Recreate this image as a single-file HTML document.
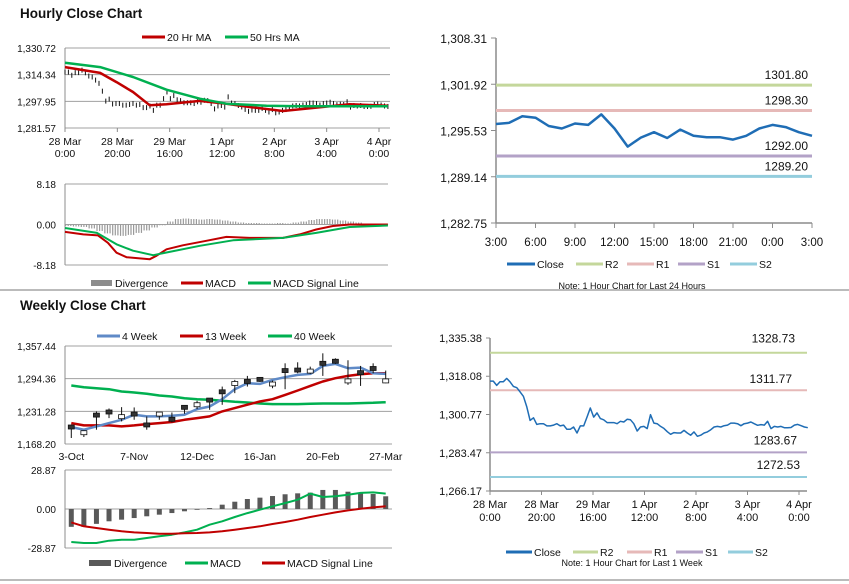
<!DOCTYPE html>
<html><head><meta charset="utf-8"><style>
body{margin:0;background:#fff;width:849px;height:584px;overflow:hidden}
svg{font-family:"Liberation Sans",sans-serif;display:block}
text{fill:#111}
</style></head><body>
<svg id="s" width="849" height="584" viewBox="0 0 849 584"></svg>
<script>
// ---------- DATA ----------
const hourTicks=["28 Mar|0:00","28 Mar|20:00","29 Mar|16:00","1 Apr|12:00","2 Apr|8:00","3 Apr|4:00","4 Apr|0:00"];
const weekClose=[1315.9,1315.9,1313.96,1315.6,1315.6,1317.1,1315.5,1313.5,1312.9,1311.0,1309.0,1304.2,1298.1,1299.3,1296.3,1296.6,1296.6,1295.6,1295.6,1296.0,1296.6,1295.6,1296.0,1294.1,1294.1,1295.1,1292.4,1295.6,1295.6,1299.6,1303.7,1299.6,1301.5,1298.9,1298.4,1297.1,1297.1,1297.1,1296.6,1297.7,1297.4,1298.6,1298.4,1296.6,1293.3,1295.1,1295.4,1294.4,1300.7,1296.9,1296.6,1295.4,1294.5,1293.0,1291.8,1292.6,1292.4,1292.4,1293.6,1292.4,1291.4,1292.9,1290.9,1291.4,1292.4,1292.9,1293.9,1295.1,1295.4,1295.1,1295.7,1296.0,1296.9,1296.9,1296.6,1295.7,1296.6,1296.9,1297.4,1296.6,1295.9,1296.2,1296.0,1297.7,1294.4,1295.4,1295.1,1295.4,1294.8,1294.8,1294.9,1296.0,1296.3,1295.7,1295.1,1294.8];
const maHours=[0,13.4,19.7,26,32.4,38.8,51.5,61.7,70.6,83.3,96,108.8,123.4];
const ma20=[1319.0,1315.4,1309.8,1303.7,1295.5,1296.1,1298.2,1296.5,1294.5,1292.0,1294.1,1296.1,1295.3];
const ma50Hours=[0,13.4,26,38.8,51.5,61.7,77,89.7,102.4,115,123.4];
const ma50=[1321.7,1319.0,1312.9,1305.1,1299.6,1296.5,1295.3,1294.9,1294.9,1294.9,1294.9];
const macdHours=[0,7,12.6,16.4,19.7,23.5,32.4,35,38.8,45,54,61.7,70.6,83.3,89.7,96,102.4,108.8,123.4];
const macdH=[-1.5,-2.0,-2.2,-3.7,-5.7,-6.6,-7.0,-6.3,-5.0,-4.2,-3.3,-2.5,-2.7,-2.7,-2.0,-1.0,-0.3,0,0];
const sigHours=[0,12.2,19.7,26,33.7,38.8,51.5,64.2,83.3,96,108.8,123.4];
const sigH=[-0.7,-1.7,-4.0,-5.3,-6.2,-5.65,-4.3,-3.2,-2.7,-1.7,-0.5,-0.2];
const divH=[-0.3,-0.4,-0.5,-0.8,-1.3,-1.8,-2.2,-2.3,-2.1,-1.7,-1.2,-0.6,-0.1,0.6,1.1,1.2,1.1,1.0,1.1,1.0,0.8,0.6,0.4,0.3,0.3,0.2,0.2,0.3,0.2,0.4,0.6,0.9,1.1,1.1,1.0,0.8,0.6,0.4,0.2,0.1,0.1,0.1];
const dayTicks=["3:00","6:00","9:00","12:00","15:00","18:00","21:00","0:00","3:00"];
const dayClose=[1296.43,1296.6,1297.5,1297.3,1296.15,1295.8,1296.5,1296.3,1297.76,1295.8,1293.3,1294.55,1295.3,1294.5,1295.65,1294.8,1294.6,1294.6,1294.27,1294.8,1295.8,1296.3,1296.0,1295.3,1294.8];
const dayLevels=[1301.80,1298.30,1292.00,1289.20];
const weekLevels=[1328.73,1311.77,1283.67,1272.53];
const weekLabels=["3-Oct","7-Nov","12-Dec","16-Jan","20-Feb","27-Mar"];
const wkClose=[1201,1190,1224,1230,1221,1226,1205,1226,1216,1239,1244,1253,1269,1285,1289,1293,1284,1310,1311,1309,1324,1328,1290,1306,1314,1290];
const wkHigh=[1205.4,1194.5,1231,1236.8,1239.4,1238.8,1221.4,1229.1,1229.1,1242,1251.6,1255.4,1279.1,1292,1299.7,1297.1,1290.7,1324,1326,1317.6,1343.3,1333.7,1329.9,1319,1324,1310];
const wkLow=[1179.8,1181.7,1195.8,1218.2,1211.8,1215,1195.8,1215,1209.9,1226.6,1235.5,1234.3,1243.9,1266.4,1279.1,1288.1,1275.9,1274,1304.8,1303.5,1299.7,1322.8,1282.4,1280.4,1304.8,1285.6];
const ma4=[1200.9,1195.8,1202.2,1208.6,1215.0,1224.7,1221.4,1221.4,1222.7,1224.7,1235.6,1240.7,1254.8,1274.0,1285.6,1284.3,1292.0,1297.1,1301.6,1303.5,1319.0,1322.8,1314.5,1315.7,1304.8,1303.5];
const ma13=[1208.6,1204.1,1204.1,1204.1,1202.2,1204.1,1206.7,1208.6,1210.6,1215.0,1218.2,1221.4,1231.1,1237.5,1244.0,1250.3,1254.8,1263.1,1271.5,1280.4,1288.8,1295.2,1299.7,1302.9,1304.8,1304.8];
const ma40=[1281.1,1277.9,1276.0,1274.0,1269.6,1267.6,1265.1,1261.9,1259.9,1256.7,1254.8,1253.5,1251.6,1249.7,1248.4,1246.5,1245.2,1245.2,1245.2,1245.8,1246.5,1246.5,1246.5,1247.1,1247.8,1249.0];
const wkDiv=[-13.2,-13.2,-11.0,-9.1,-7.9,-6.7,-5.4,-4.2,-3.0,-1.7,-0.5,0.7,3.2,5.4,7.4,8.4,9.6,10.9,11.6,12.1,14.1,14.1,12.8,12.1,11.1,9.4];
const wkMacd=[-24.4,-25.2,-25.2,-23.5,-22.7,-22.7,-21.5,-20.2,-19.0,-17.3,-15.3,-11.6,-9.1,-5.9,-3.0,-0.5,2.0,4.4,6.9,11.4,8.9,9.4,10.6,11.9,12.3,11.4];
const wkSig=[-9.9,-12.8,-14.1,-15.3,-16.5,-17.3,-17.8,-18.3,-18.3,-18.0,-17.8,-17.3,-16.5,-15.3,-14.1,-12.8,-11.1,-9.6,-7.9,-5.9,-4.2,-2.5,-1.0,0.2,1.2,2.0];

// ---------- HELPERS ----------
const S=document.getElementById('s');const NS='http://www.w3.org/2000/svg';
function el(tag,at,txt){const e=document.createElementNS(NS,tag);for(const k in at)e.setAttribute(k,at[k]);if(txt!==undefined)e.textContent=txt;S.appendChild(e);return e;}
function lin(d0,d1,r0,r1){return v=>r0+(v-d0)*(r1-r0)/(d1-d0);}
const GREY='#8c8c8c',RED='#c00000',GRN='#00b050',BLUE='#1f6db5',WBLUE='#5f8ac7';
const LVC=['#c4d79b','#e6b9b8','#b3a2c7','#93cddd'];
function path(xs,ys,stroke,w,name){let d='';for(let i=0;i<xs.length;i++)d+=(i?'L':'M')+xs[i].toFixed(1)+' '+ys[i].toFixed(1);const p=el('path',{d:d,fill:'none',stroke:stroke,'stroke-width':w,'stroke-linejoin':'round'});return p;}
function txt(x,y,s,size,anchor,name,weight){const t=el('text',{x:x,y:y,'font-size':size,'text-anchor':anchor||'start','font-weight':weight||'normal'},s);return t;}
function hl(x1,x2,y,c,w,name){const l=el('line',{x1:x1,x2:x2,y1:y,y2:y,stroke:c,'stroke-width':w});return l;}
function vl(x,y1,y2,c,w,name){const l=el('line',{x1:x,x2:x,y1:y1,y2:y2,stroke:c,'stroke-width':w});return l;}
function legLine(x1,x2,y,c,label,name){hl(x1,x2,y,c,3,name+'-swatch');txt(x2+2,y+4,label,10.5,'start',name+'-label');}
function fmt(v){return v.toLocaleString('en-US',{minimumFractionDigits:2,maximumFractionDigits:2});}

// separators
hl(0,849,290,'#777',1,'section-separator');
hl(0,849,580,'#777',1,'bottom-separator');

// ---------- HOURLY CLOSE CHART (top-left) ----------
txt(20,18,'Hourly Close Chart',13.5,'start','hourly-chart-title','bold');
{
 const X=lin(0,120,65,379),Y=lin(1281.57,1330.72,128,48);
 [1281.57,1297.95,1314.34,1330.72].forEach(v=>{hl(65,390,Y(v),'#a0a0a0',1,'hourly-gridline');txt(56,Y(v)+4,fmt(v),10,'end','hourly-y-tick');});
 vl(65,48,128,GREY,1,'hourly-y-axis');
 hourTicks.forEach((t,i)=>{const x=X(i*20);vl(x,128,132,GREY,1,'hourly-x-tick');const p=t.split('|');txt(x,145,p[0],10.5,'middle','hourly-x-label');txt(x,157,p[1],10.5,'middle','hourly-x-label');});
 weekClose.forEach((v,i)=>{const h=i*123.4/95;const x=X(h);const b=vl(x,Y(v)-2.5,Y(v)+2.5,'#111',1,'hourly-price-bar');});
 path(maHours.map(X),ma20.map(Y),RED,2.5,'ma20-line');
 path(ma50Hours.map(X),ma50.map(Y),GRN,2.5,'ma50-line');
 legLine(142,165,37,RED,'20 Hr MA','legend-20hr-ma');
 legLine(225,248,37,GRN,'50 Hrs MA','legend-50hrs-ma');
 // MACD panel
 const M=lin(-8.18,8.18,265,184);
 [8.18,0,-8.18].forEach(v=>{hl(65,388,M(v),'#a0a0a0',1,'hourly-macd-gridline');txt(56,M(v)+4,fmt(v),10,'end','hourly-macd-y-tick');});
 vl(65,184,265,GREY,1,'hourly-macd-y-axis');
 divH.forEach((v,i)=>{const x=X(i*3);for(let k=0;k<3;k++){const xx=x+k*2.6;if(xx>388)break;const y0=M(0),y1=M(v);const r=el('rect',{x:xx,y:Math.min(y0,y1),width:1.2,height:Math.max(0.8,Math.abs(y1-y0)),fill:'#9a9a9a'});}});
 path(macdHours.map(X),macdH.map(M),RED,2,'hourly-macd-line');
 path(sigHours.map(X),sigH.map(M),GRN,2,'hourly-signal-line');
 const r=el('rect',{x:91,y:280,width:21,height:6,fill:'#8c8c8c'});
 txt(115,287,'Divergence',10.5,'start','legend-divergence-label');
 legLine(181,203,283,RED,'MACD','legend-hourly-macd');
 legLine(248,271,283,GRN,'MACD Signal Line','legend-hourly-signal');
}

// ---------- DAY CHART (top-right) ----------
{
 const X=lin(0,24,496,812),Y=lin(1282.75,1308.31,223,38);
 vl(496,38,223,GREY,1.5,'day-y-axis');hl(496,812,223,GREY,1.5,'day-x-axis');
 [1282.75,1289.14,1295.53,1301.92,1308.31].forEach(v=>{hl(491,496,Y(v),GREY,1,'day-y-tick-mark');txt(487,Y(v)+5,fmt(v),12,'end','day-y-tick');});
 dayTicks.forEach((t,i)=>{const x=X(i*3);vl(x,223,228,GREY,1,'day-x-tick');txt(x,246,t,11.5,'middle','day-x-label');});
 dayLevels.forEach((v,i)=>{hl(496,812,Y(v),LVC[i],3,'day-level-'+['r2','r1','s1','s2'][i]);txt(808,Y(v)-6,v.toFixed(2),12,'end','day-level-label');});
 path(dayClose.map((v,i)=>X(i)),dayClose.map(Y),BLUE,2.5,'day-close-line');
 legLine(507,535,264,BLUE,'Close','legend-day-close');
 legLine(576,603,264,LVC[0],'R2','legend-day-r2');
 legLine(627,654,264,LVC[1],'R1','legend-day-r1');
 legLine(678,705,264,LVC[2],'S1','legend-day-s1');
 legLine(730,757,264,LVC[3],'S2','legend-day-s2');
 txt(632,289,'Note: 1 Hour Chart for Last 24 Hours',9,'middle','day-note');
}

// ---------- WEEKLY CLOSE CHART (bottom-left) ----------
txt(20,310,'Weekly Close Chart',13.5,'start','weekly-chart-title','bold');
{
 const bw=(392-65)/26,X=i=>65+bw/2+i*bw,Y=lin(1168.20,1357.44,444,346);
 [1168.20,1231.28,1294.36,1357.44].forEach(v=>{hl(65,392,Y(v),'#a0a0a0',1,'weekly-gridline');txt(56,Y(v)+4,fmt(v),10,'end','weekly-y-tick');});
 vl(65,346,444,GREY,1,'weekly-y-axis');
 weekLabels.forEach((t,i)=>{txt(X(i*5),460,t,10.5,'middle','weekly-x-label');});
 path(wkClose.map((v,i)=>X(i)),ma40.map(Y),GRN,2.5,'ma40-line');
 path(wkClose.map((v,i)=>X(i)),ma13.map(Y),RED,2.5,'ma13-line');
 path(wkClose.map((v,i)=>X(i)),ma4.map(Y),WBLUE,2.5,'ma4-line');
 wkClose.forEach((v,i)=>{const x=X(i);vl(x,Y(wkHigh[i]),Y(wkLow[i]),'#111',1,'weekly-candle-wick');const r=el('rect',{x:x-3,y:Y(v)-2,width:6,height:4,fill:i%3==1?'#fff':'#333',stroke:'#111','stroke-width':0.8});});
 legLine(97,120,336,WBLUE,'4 Week','legend-4-week');
 legLine(180,203,336,RED,'13 Week','legend-13-week');
 legLine(268,292,336,GRN,'40 Week','legend-40-week');
 const M=lin(-28.87,28.87,548,470);
 [28.87,0,-28.87].forEach(v=>{hl(65,392,M(v),'#a0a0a0',1,'weekly-macd-gridline');txt(56,M(v)+4,fmt(v),10,'end','weekly-macd-y-tick');});
 vl(65,470,548,GREY,1,'weekly-macd-y-axis');
 wkDiv.forEach((v,i)=>{const y0=M(0),y1=M(v);const r=el('rect',{x:X(i)-2.5,y:Math.min(y0,y1),width:5,height:Math.max(0.8,Math.abs(y1-y0)),fill:'#595959'});});
 path(wkMacd.map((v,i)=>X(i)),wkMacd.map(M),GRN,2,'weekly-macd-line');
 path(wkSig.map((v,i)=>X(i)),wkSig.map(M),RED,2,'weekly-signal-line');
 const r=el('rect',{x:89,y:560,width:22,height:6,fill:'#595959'});
 txt(114,567,'Divergence',10.5,'start','legend-weekly-divergence-label');
 legLine(185,208,563,GRN,'MACD','legend-weekly-macd');
 legLine(262,285,563,RED,'MACD Signal Line','legend-weekly-signal');
}

// ---------- WEEK CHART (bottom-right) ----------
{
 const X=lin(0,120,490,799),Y=lin(1266.17,1335.38,491,338);
 vl(490,338,491,GREY,1.5,'week-y-axis');hl(490,807,491,GREY,1.5,'week-x-axis');
 [1266.17,1283.47,1300.77,1318.08,1335.38].forEach(v=>{hl(486,490,Y(v),GREY,1,'week-y-tick-mark');txt(482,Y(v)+4,fmt(v),11,'end','week-y-tick');});
 hourTicks.forEach((t,i)=>{const x=X(i*20);vl(x,491,495,GREY,1,'week-x-tick');const p=t.split('|');txt(x,508,p[0],11,'middle','week-x-label');txt(x,521,p[1],11,'middle','week-x-label');});
 weekLevels.forEach((v,i)=>{hl(490,807,Y(v),LVC[i],2,'week-level-'+['r2','r1','s1','s2'][i]);txt(i==0?795:i==1?792:i==2?797:800,Y(v)-(i==0?10:i==1?7:8),v.toFixed(2),12,'end','week-level-label');});
 path(weekClose.map((v,i)=>X(i*123.4/95)),weekClose.map(Y),BLUE,1.5,'week-close-line');
 legLine(506,532,552,BLUE,'Close','legend-week-close');
 legLine(573,598,552,LVC[0],'R2','legend-week-r2');
 legLine(627,652,552,LVC[1],'R1','legend-week-r1');
 legLine(676,703,552,LVC[2],'S1','legend-week-s1');
 legLine(728,753,552,LVC[3],'S2','legend-week-s2');
 txt(632,566,'Note: 1 Hour Chart for Last 1 Week',9,'middle','week-note');
}
</script>
</body></html>
